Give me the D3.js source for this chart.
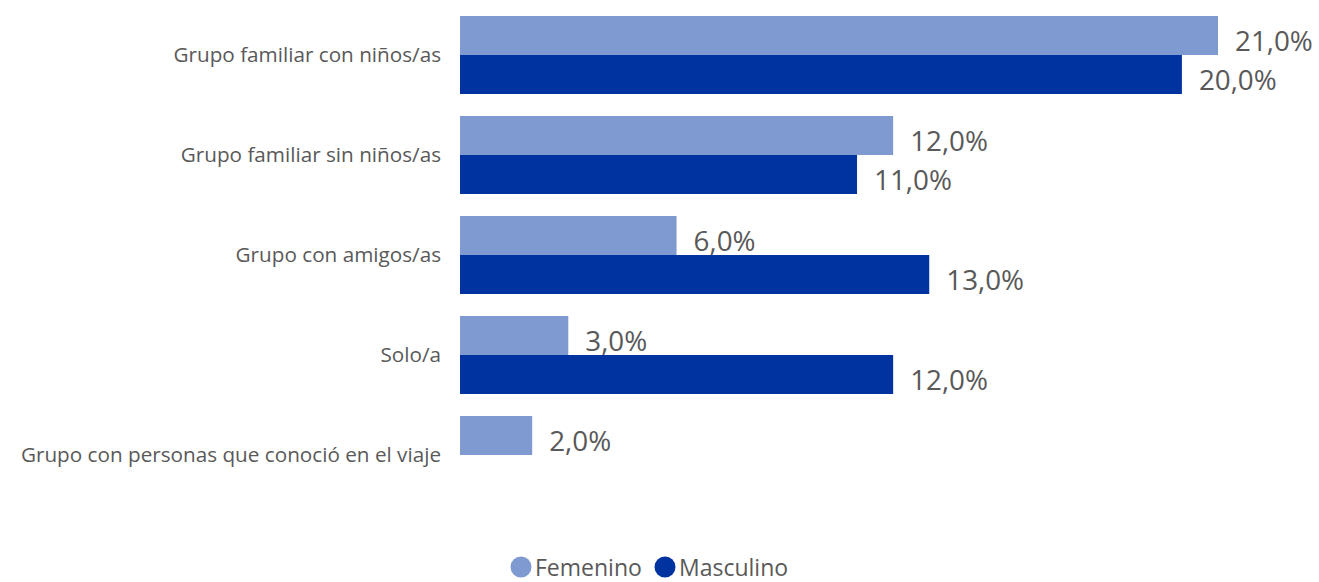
<!DOCTYPE html>
<html>
<head>
<meta charset="utf-8">
<script src="https://cdn.jsdelivr.net/npm/d3@7"></script>
<style>
	body { margin: 0; background: #fff; }
	svg text { font-family: "Open Sans", "Noto Sans", sans-serif; fill: #595959; }
</style>
</head>
<body>
<div class="chart"></div>
<script>
// data
const categories = [
	"Grupo familiar con niños/as",
	"Grupo familiar sin niños/as",
	"Grupo con amigos/as",
	"Solo/a",
	"Grupo con personas que conoció en el viaje"
];
const seriesNames = ["Femenino", "Masculino"];
const femenino = [21, 12, 6, 3, 2];
const masculino = [20, 11, 13, 12, null];
const seriesColors = ["#7f9ad0", "#0033a0"];

(function () {

	const width = 1319,
		height = 582;

	const svg = d3.select(".chart").append("svg")
		.attr("width", width)
		.attr("height", height);

	const rows = categories.map(function (c, i) {
		return {cat: c, values: [femenino[i], masculino[i]]};
	});

	const x = d3.scaleLinear().domain([0, 21]).range([460, 1218]);

	const y = d3.scaleBand()
		.domain(categories)
		.range([5, 505])
		.paddingInner(0.22)
		.paddingOuter(0.11);

	const y1 = d3.scaleBand().domain([0, 1]).range([0, y.bandwidth()]);

	const yAxis = d3.axisLeft(y).tickSize(0).tickPadding(19);
	const gAxis = svg.append("g")
		.attr("transform", "translate(" + x(0) + ",0)")
		.call(yAxis);
	gAxis.select(".domain").remove();
	gAxis.selectAll("text")
		.attr("font-size", 20.7)
		.style("font-family", null)
		.attr("fill", null);

	const group = svg.selectAll(".grp")
		.data(rows)
		.enter().append("g")
		.attr("class", "grp")
		.attr("transform", function (d) { return "translate(0," + y(d.cat) + ")"; });

	const bars = group.selectAll(".bar")
		.data(function (d) {
			return d.values.map(function (v, k) { return {v: v, k: k}; })
				.filter(function (e) { return e.v !== null; });
		})
		.enter();

	bars.append("rect")
		.attr("x", x(0))
		.attr("y", function (d) { return y1(d.k); })
		.attr("width", function (d) { return x(d.v) - x(0); })
		.attr("height", y1.bandwidth())
		.attr("fill", function (d) { return seriesColors[d.k]; });

	bars.append("text")
		.attr("x", function (d) { return x(d.v) + 17; })
		.attr("y", function (d) { return y1(d.k) + y1.bandwidth() / 2 + 4; })
		.attr("dominant-baseline", "central")
		.attr("font-size", 27.8)
		.text(function (d) { return d3.format(".1f")(d.v).replace(".", ",") + "%"; });

	// legend
	const legendX = [521, 665];
	const legend = svg.selectAll(".legend")
		.data(seriesNames)
		.enter().append("g")
		.attr("class", "legend")
		.attr("transform", function (d, i) { return "translate(" + legendX[i] + ",567)"; });

	legend.append("circle")
		.attr("r", 10.5)
		.attr("fill", function (d, i) { return seriesColors[i]; });

	legend.append("text")
		.attr("x", 14)
		.attr("dominant-baseline", "central")
		.attr("font-size", 23)
		.text(function (d) { return d; });

}());
</script>
</body>
</html>
